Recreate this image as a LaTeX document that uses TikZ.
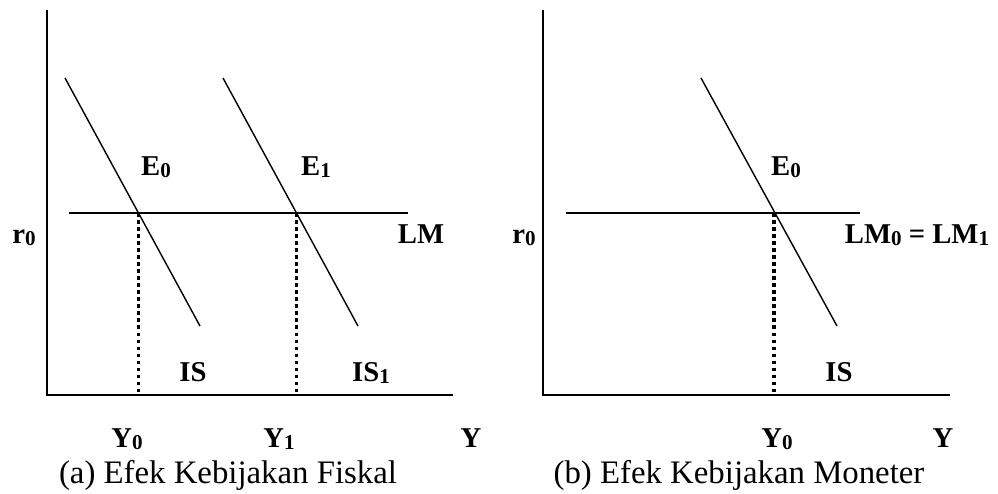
\documentclass[tikz,border=0pt]{standalone}
\usepackage{fontspec}
\setmainfont{Liberation Serif}
\usetikzlibrary{positioning}
\newcommand{\dn}[1]{\raisebox{-0.1em}{\fontsize{18}{18}\selectfont #1}}
\tikzset{
  lbl/.style={font=\fontsize{24.5}{26}\selectfont\bfseries,inner sep=0pt,anchor=base},
  captxt/.style={font=\fontsize{28}{30}\selectfont,inner sep=0pt,anchor=base},
  axis/.style={line width=1.9pt},
  curve/.style={line width=1.2pt},
  drop/.style={line width=3pt,dash pattern=on 3pt off 3pt},
}
\begin{document}
\begin{tikzpicture}[x=0.03cm,y=-0.03cm]
\useasboundingbox (0,0) rectangle (998,493);
% (a) fiscal policy
\coordinate (oa) at (47,395); \coordinate (ya) at (47,10); \coordinate (xa) at (453,395);
\draw[axis] (ya) -- (oa) -- (xa);
\coordinate (is0a) at (65,78); \coordinate (is0b) at (200,326);
\coordinate (is1a) at (223,78); \coordinate (is1b) at (358,326);
\coordinate (lma) at (69,213); \coordinate (lmb) at (408,213);
\draw[curve] (is0a) -- (is0b);
\draw[curve] (is1a) -- (is1b);
\draw[curve] (lma) -- (lmb);
\coordinate (e0) at (138.5,213); \coordinate (y0) at (138.5,393);
\coordinate (e1) at (296.5,213); \coordinate (y1) at (296.5,393);
\draw[drop] (e0) -- (y0);
\draw[drop] (e1) -- (y1);
\node[lbl] (E0a) at (156,175) {E\dn{0}};
\node[lbl] (E1a) at (316,175) {E\dn{1}};
\node[lbl] (LMa) at (421,243) {LM};
\node[lbl] (r0a) at (24,243) {r\dn{0}};
\node[lbl] (ISa) at (193,381) {IS};
\node[lbl] (IS1a) at (371,381) {IS\dn{1}};
\node[lbl] (Y0a) at (127,447) {Y\dn{0}};
\node[lbl] (Y1a) at (279,447) {Y\dn{1}};
\node[lbl] (Ya) at (471,447) {Y};
\node[captxt] (capa) at (228,483) {(a) Efek Kebijakan Fiskal};
% (b) monetary policy
\coordinate (ob) at (543,395); \coordinate (yb) at (543,10); \coordinate (xb) at (950,395);
\draw[axis] (yb) -- (ob) -- (xb);
\coordinate (isa) at (701,78); \coordinate (isb) at (837,326);
\coordinate (lm0a) at (566,213); \coordinate (lm0b) at (860,213);
\draw[curve] (isa) -- (isb);
\draw[curve] (lm0a) -- (lm0b);
\coordinate (e0b) at (774,213); \coordinate (y0b) at (774,393);
\draw[drop] (e0b) -- (y0b);
\node[lbl] (E0b) at (786,175) {E\dn{0}};
\node[lbl] (LMb) at (917,243) {LM\dn{0} = LM\dn{1}};
\node[lbl] (r0b) at (524,243) {r\dn{0}};
\node[lbl] (ISb) at (839,381) {IS};
\node[lbl] (Y0b) at (777,447) {Y\dn{0}};
\node[lbl] (Yb) at (943,447) {Y};
\node[captxt] (capb) at (739,483) {(b) Efek Kebijakan Moneter};
\end{tikzpicture}
\end{document}
